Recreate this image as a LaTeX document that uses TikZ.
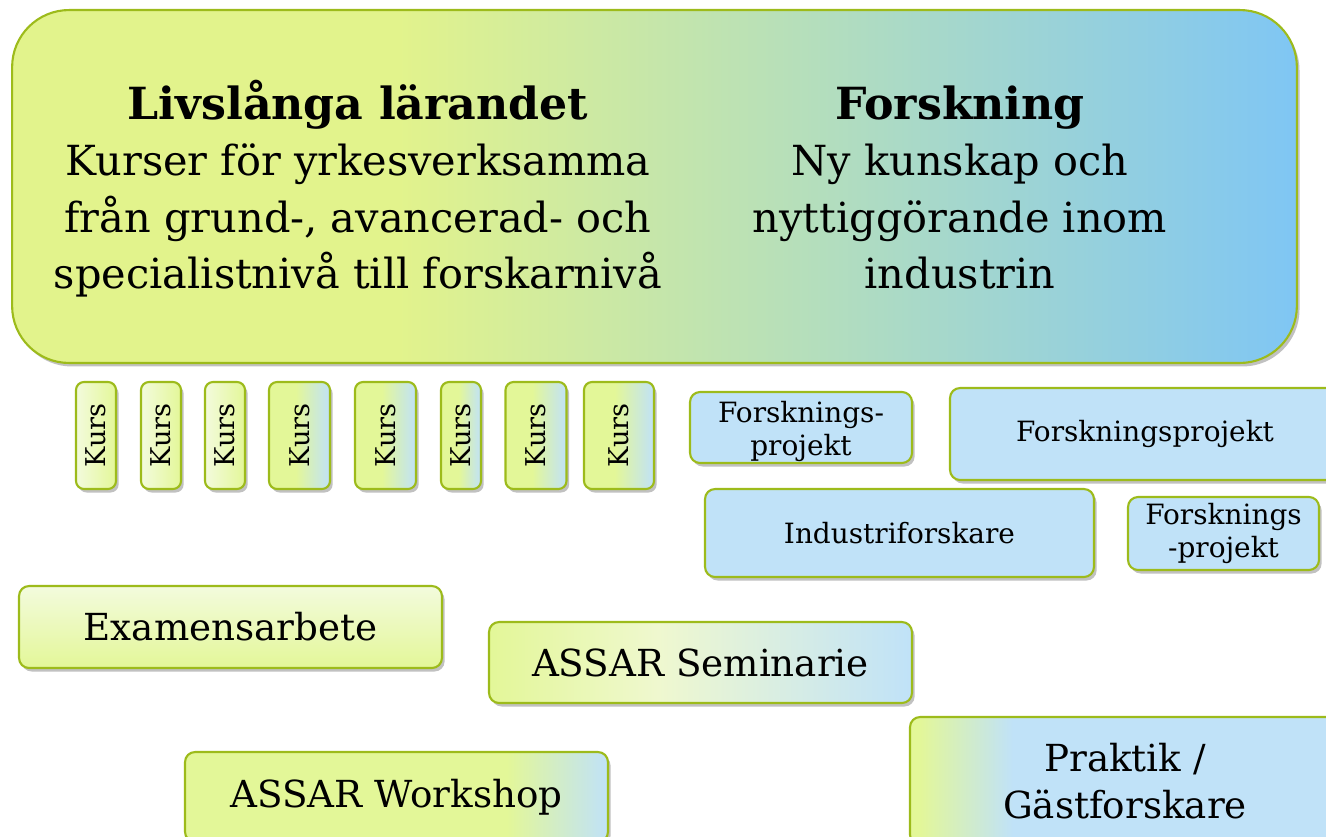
\documentclass[tikz,border=0pt]{standalone}
\usepackage{fontspec}
\setmainfont{DejaVu Serif}
\usetikzlibrary{shadows}

\definecolor{bordergreen}{HTML}{9DBB1B}
\definecolor{ygreen}{HTML}{E3F798}
\definecolor{ylight}{HTML}{F3FBDD}
\definecolor{bigleft}{HTML}{E2F38C}
\definecolor{bigright}{HTML}{7FC6F4}
\definecolor{lblue}{HTML}{C0E2F8}
\definecolor{semmid}{HTML}{EFF8CF}

% shadings for the boxes (the path spans 25bp to 75bp)
\pgfdeclarehorizontalshading{bigshade}{100bp}{color(0bp)=(bigleft); color(40bp)=(bigleft); color(75bp)=(bigright); color(100bp)=(bigright)}
\pgfdeclarehorizontalshading{kursA}{100bp}{color(0bp)=(ylight); color(25bp)=(ylight); color(75bp)=(ygreen); color(100bp)=(ygreen)}
\pgfdeclarehorizontalshading{kursB}{100bp}{color(0bp)=(ygreen); color(47bp)=(ygreen); color(75bp)=(lblue); color(100bp)=(lblue)}
\pgfdeclarehorizontalshading{semshade}{100bp}{color(0bp)=(ygreen); color(25bp)=(ygreen); color(45bp)=(semmid); color(75bp)=(lblue); color(100bp)=(lblue)}
\pgfdeclarehorizontalshading{workshade}{100bp}{color(0bp)=(ygreen); color(63bp)=(ygreen); color(75bp)=(lblue); color(100bp)=(lblue)}
\pgfdeclarehorizontalshading{prashade}{100bp}{color(0bp)=(ygreen); color(26bp)=(ygreen); color(37bp)=(lblue); color(100bp)=(lblue)}

\tikzset{
  box/.style={draw=bordergreen, line width=1.2pt, rounded corners=0.2cm,
    inner sep=0pt, align=center,
    drop shadow={shadow xshift=1.5pt, shadow yshift=-2pt, opacity=0.35, fill=black!70}},
  kurs/.style={box, rounded corners=0.16cm, shade, minimum height=2.14cm,
    font=\fontsize{15.5}{17}\selectfont},
  bluebox/.style={box, fill=lblue, font=\fontsize{15.9}{19}\selectfont},
  greenbox/.style={box, shade, minimum width=8.46cm, font=\fontsize{21.2}{27}\selectfont},
  coltext/.style={align=center, inner sep=0pt, anchor=north, font=\fontsize{23.6}{32}\selectfont},
}

\begin{document}
\begin{tikzpicture}[x=0.02cm, y=-0.02cm]
        \useasboundingbox (0,0) rectangle (1326,836);

        % Top box
        \node[box, shade, shading=bigshade, rounded corners=1.14cm,
          minimum width=25.7cm, minimum height=7.06cm] (top) at (654.5,186.5) {};
        \node[coltext] (lifelong) at (358,80)
          {{\fontsize{25.2}{32}\selectfont\bfseries Livslånga lärandet}\\
           Kurser för yrkesverksamma\\
           från grund-, avancerad- och\\
           specialistnivå till forskarnivå};
        \node[coltext] (research) at (960,80)
          {{\fontsize{25.2}{32}\selectfont\bfseries Forskning\vphantom{å}}\\
           Ny kunskap och\\
           nyttiggörande inom\\
           industrin};

        % Courses
        \foreach \n/\cx/\w/\s in {1/96/0.8/kursA, 2/161/0.8/kursA, 3/225/0.8/kursA,
            4/299.5/1.22/kursB, 5/385.5/1.22/kursB, 6/461/0.8/kursB,
            7/536/1.22/kursB, 8/619/1.4/kursB} {
            \node[kurs, shading=\s, minimum width=\w cm] (kurs\n) at (\cx,435.5) {\rotatebox{90}{Kurs}};
        }

        % Research boxes
        \node[bluebox, minimum width=4.44cm, minimum height=1.42cm] (proj1) at (801,427.5) {\rule{0pt}{16.7pt}Forsknings-\\projekt};
        \node[bluebox, minimum width=7.8cm, minimum height=1.84cm] (proj2) at (1145,434) {Forskningsprojekt};
        \node[bluebox, minimum width=7.78cm, minimum height=1.76cm] (indus) at (899.5,533) {Industriforskare};
        \node[bluebox, minimum width=3.82cm, minimum height=1.46cm] (proj3) at (1223.5,533.5) {Forsknings\\-projekt};

        % Other activities
        \node[greenbox, top color=ylight, bottom color=ygreen, minimum height=1.64cm] (exam) at (230.5,627) {Examensarbete};
        \node[greenbox, shading=semshade, minimum height=1.62cm] (seminar) at (700.5,662.5) {ASSAR Seminarie};
        \node[greenbox, shading=workshade, minimum height=1.8cm] (workshop) at (396.5,797) {ASSAR Workshop};
        \node[greenbox, shading=prashade, minimum width=8.6cm, minimum height=2.56cm] (guest) at (1125,781) {Praktik /\\Gästforskare};
\end{tikzpicture}
\end{document}
